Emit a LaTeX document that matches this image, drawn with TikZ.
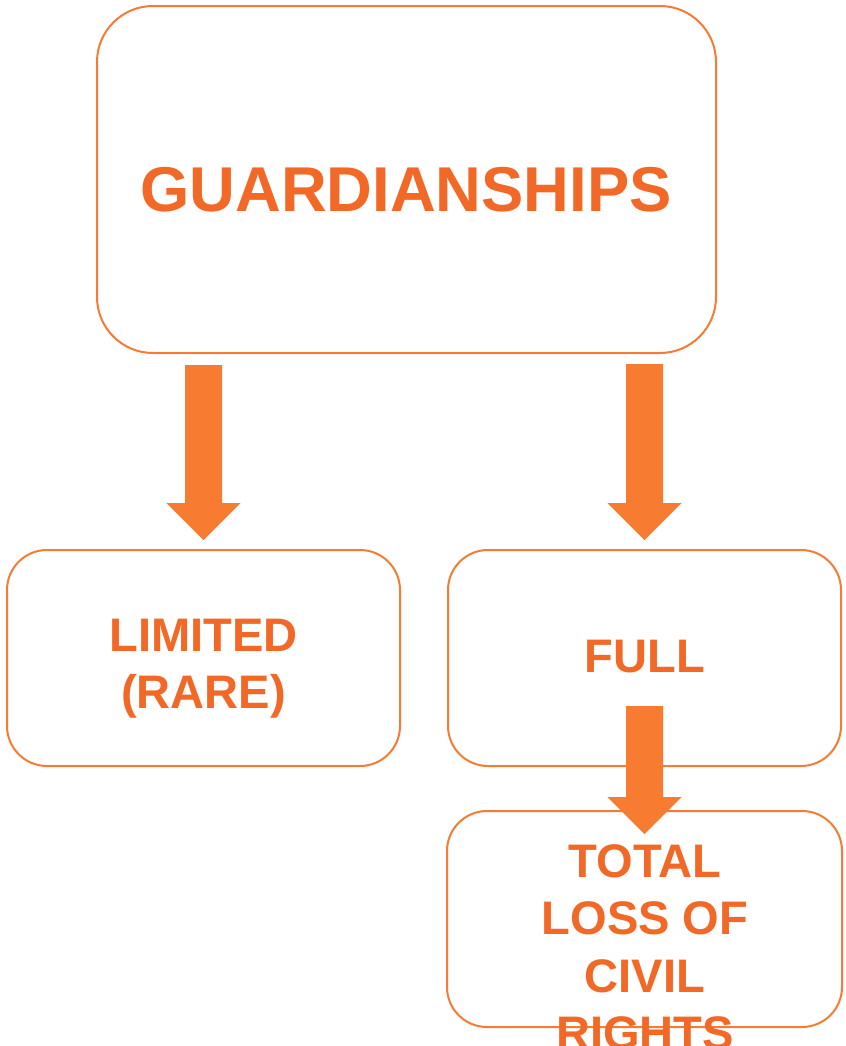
\documentclass[tikz,border=0pt]{standalone}
\usepackage{fontspec}
\setmainfont{Liberation Sans}
\definecolor{boxline}{HTML}{F47C34}
\definecolor{arrowfill}{HTML}{F77B30}
\definecolor{txtcol}{HTML}{F26826}
\newcommand\dnarrow[4]{%
  \fill[arrowfill] (#1-18.5,#2) -- (#1+18.5,#2) -- (#1+18.5,#3) -- (#1+37,#3)
    -- (#1,#4) -- (#1-37,#3) -- (#1-18.5,#3) -- cycle;}
\tikzset{
  box/.style={draw=boxline, line width=1.5pt, fill=white, rectangle, inner sep=0pt},
  bigtxt/.style={text=txtcol, inner sep=0pt, font=\bfseries\fontsize{47.5pt}{58pt}\selectfont},
  smalltxt/.style={text=txtcol, inner sep=0pt, align=center, font=\bfseries\fontsize{35.3pt}{43pt}\selectfont},
}
\begin{document}
\begin{tikzpicture}[x=0.75pt, y=-0.75pt]
\useasboundingbox (0,0) rectangle (846,1046);
\clip (0,0) rectangle (846,1046);
% boxes
\node[box, rounded corners=42pt, minimum width=464.25pt, minimum height=260.25pt] (top) at (406.5,179.5) {};
\node[box, rounded corners=30pt, minimum width=294.75pt, minimum height=162pt] (lim) at (203.5,658) {};
\node[box, rounded corners=30pt, minimum width=294.75pt, minimum height=162pt] (full) at (644.5,658) {};
\node[box, rounded corners=30pt, minimum width=296.25pt, minimum height=162pt] (total) at (644.5,919) {};
% block arrows
\dnarrow{203.5}{365}{503}{540}
\dnarrow{644.5}{364}{503}{540}
\dnarrow{644.5}{706}{797}{834}
% texts
\node[bigtxt, anchor=base] (ttop) at (406,211) {GUARDIANSHIPS};
\node[smalltxt, anchor=north] (tlim) at (203.5,619) {LIMITED\\(RARE)};
\node[smalltxt, anchor=base] (tfull) at (645,672) {FULL};
\node[smalltxt, anchor=north] (ttotal) at (645,844.5) {TOTAL\\LOSS OF\\CIVIL\\RIGHTS};
\end{tikzpicture}
\end{document}
